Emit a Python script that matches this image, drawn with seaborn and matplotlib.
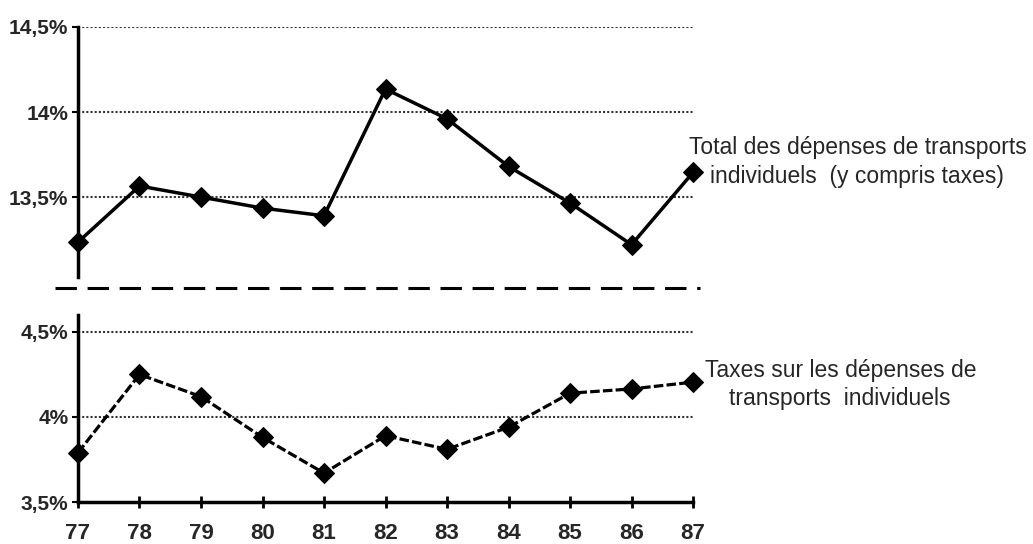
# Dépenses de transports individuels, 1977-1987
import pandas as pd
import matplotlib
matplotlib.use("Agg")
import matplotlib.pyplot as plt
from matplotlib.lines import Line2D
from matplotlib.ticker import FuncFormatter
import seaborn as sns

sns.set_theme(style="white")
plt.rcParams['font.family'] = ['Liberation Sans', 'DejaVu Sans']

# Données (en %)
annees = [77, 78, 79, 80, 81, 82, 83, 84, 85, 86, 87]
total = [13.235, 13.565, 13.5, 13.435, 13.39, 14.135, 13.96, 13.68, 13.465, 13.22, 13.645]
taxes = [3.79, 4.25, 4.12, 3.88, 3.67, 3.89, 3.81, 3.94, 4.14, 4.165, 4.205]

df = pd.DataFrame({'annee': annees, 'total': total, 'taxes': taxes})


def fmt_pct(v, pos):
    s = f"{v:g}".replace('.', ',')
    return s + '%'


fig = plt.figure(figsize=(10.33, 5.44), dpi=100)
ax_haut = fig.add_axes([0.0755, 0.4908, 0.5954, 0.4596])
ax_bas = fig.add_axes([0.0755, 0.0772, 0.5954, 0.3438])

# Panneau du haut : total
sns.lineplot(data=df, x='annee', y='total', ax=ax_haut, color='black',
             linewidth=2.5, marker='D', markersize=10, markeredgecolor='black',
             clip_on=False, zorder=5)
ax_haut.set_xlim(77, 87)
ax_haut.set_ylim(13.03, 14.5)
ax_haut.set_yticks([13.5, 14, 14.5])

# Panneau du bas : taxes
sns.lineplot(data=df, x='annee', y='taxes', ax=ax_bas, color='black',
             linewidth=2.3, linestyle=(0, (3, 1)), marker='D', markersize=10,
             markeredgecolor='black', clip_on=False, zorder=5)
ax_bas.set_xlim(77, 87)
ax_bas.set_ylim(3.5, 4.6)
ax_bas.set_yticks([3.5, 4, 4.5])
ax_bas.set_xticks(annees)

for ax in (ax_haut, ax_bas):
    ax.set_xlabel('')
    ax.set_ylabel('')
    ax.yaxis.set_major_formatter(FuncFormatter(fmt_pct))
    ax.tick_params(axis='y', direction='out', length=4, width=1.5, color='black',
                   left=True, labelsize=15, pad=3)
    for sp in ('top', 'right'):
        ax.spines[sp].set_visible(False)
    ax.spines['left'].set_linewidth(2.5)
    ax.spines['left'].set_color('black')
    for lab in ax.get_yticklabels():
        lab.set_fontweight('bold')
    ax.set_facecolor('none')

# Quadrillage pointillé
for y in [13.5, 14, 14.5]:
    ax_haut.axhline(y, color='#333333', linestyle=(0, (1, 1)), linewidth=1.5, zorder=1)
for y in [4, 4.5]:
    ax_bas.axhline(y, color='#333333', linestyle=(0, (1, 1)), linewidth=1.5, zorder=1)

ax_haut.spines['bottom'].set_visible(False)
ax_haut.set_xticks([])

ax_bas.spines['bottom'].set_linewidth(2.5)
ax_bas.spines['bottom'].set_color('black')
ax_bas.tick_params(axis='x', direction='inout', length=8, width=2, color='black',
                   bottom=True, labelsize=16, pad=11)
for lab in ax_bas.get_xticklabels():
    lab.set_fontweight('bold')

# Séparation en tirets entre les deux panneaux
fig.add_artist(Line2D([55 / 1033, 700 / 1033], [1 - 288 / 544, 1 - 288 / 544],
                      transform=fig.transFigure, color='black', linewidth=2.2,
                      linestyle=(0, (7, 3.5))))

# Libellés des séries
fig.text(858 / 1033, 1 - 148 / 544, 'Total des dépenses de transports',
         ha='center', va='center', fontsize=16.5)
fig.text(857 / 1033, 1 - 176 / 544, 'individuels  (y compris taxes)',
         ha='center', va='center', fontsize=16.5)
fig.text(841 / 1033, 1 - 370 / 544, 'Taxes sur les dépenses de',
         ha='center', va='center', fontsize=16.5)
fig.text(840 / 1033, 1 - 398 / 544, 'transports  individuels',
         ha='center', va='center', fontsize=16.5)

fig.savefig('out.png', dpi=100, facecolor='white')
